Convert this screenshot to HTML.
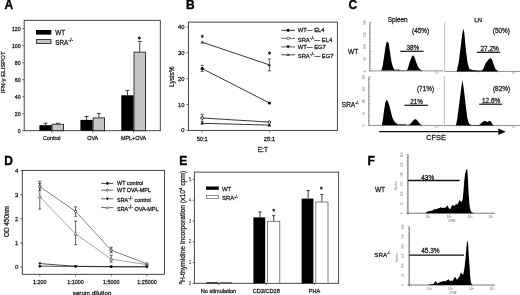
<!DOCTYPE html>
<html><head><meta charset="utf-8"><style>
html,body{margin:0;padding:0;background:#fff;}
svg{display:block;will-change:transform;filter:blur(0.3px);font-family:"Liberation Sans", sans-serif;}
</style></head><body>
<svg width="520" height="295" viewBox="0 0 520 295">
<rect width="520" height="295" fill="#fff"/>
<text x="4.5" y="8.8" font-size="12" text-anchor="start" font-weight="bold" fill="#000" stroke="#000" stroke-width="0.35">A</text>
<rect x="24.2" y="20.3" width="136.10000000000002" height="110.39999999999999" fill="none" stroke="#333" stroke-width="0.9"/>
<line x1="22.2" y1="130.7" x2="24.2" y2="130.7" stroke="#333" stroke-width="0.7"/>
<text x="20.6" y="132.6" font-size="5.2" text-anchor="end" font-weight="normal" fill="#222" stroke="#222" stroke-width="0.26">0</text>
<line x1="22.2" y1="113.69999999999999" x2="24.2" y2="113.69999999999999" stroke="#333" stroke-width="0.7"/>
<text x="20.6" y="115.6" font-size="5.2" text-anchor="end" font-weight="normal" fill="#222" stroke="#222" stroke-width="0.26">20</text>
<line x1="22.2" y1="96.69999999999999" x2="24.2" y2="96.69999999999999" stroke="#333" stroke-width="0.7"/>
<text x="20.6" y="98.6" font-size="5.2" text-anchor="end" font-weight="normal" fill="#222" stroke="#222" stroke-width="0.26">40</text>
<line x1="22.2" y1="79.69999999999999" x2="24.2" y2="79.69999999999999" stroke="#333" stroke-width="0.7"/>
<text x="20.6" y="81.6" font-size="5.2" text-anchor="end" font-weight="normal" fill="#222" stroke="#222" stroke-width="0.26">60</text>
<line x1="22.2" y1="62.69999999999999" x2="24.2" y2="62.69999999999999" stroke="#333" stroke-width="0.7"/>
<text x="20.6" y="64.6" font-size="5.2" text-anchor="end" font-weight="normal" fill="#222" stroke="#222" stroke-width="0.26">80</text>
<line x1="22.2" y1="45.69999999999999" x2="24.2" y2="45.69999999999999" stroke="#333" stroke-width="0.7"/>
<text x="20.6" y="47.59999999999999" font-size="5.2" text-anchor="end" font-weight="normal" fill="#222" stroke="#222" stroke-width="0.26">100</text>
<line x1="22.2" y1="28.69999999999999" x2="24.2" y2="28.69999999999999" stroke="#333" stroke-width="0.7"/>
<text x="20.6" y="30.599999999999987" font-size="5.2" text-anchor="end" font-weight="normal" fill="#222" stroke="#222" stroke-width="0.26">120</text>
<text x="5.2" y="72.3" font-size="6.0" text-anchor="middle" font-weight="normal" fill="#222" stroke="#222" stroke-width="0.26" transform="rotate(-90 5.2 72.3)">IFN-γ ELISPOT</text>
<rect x="36" y="30" width="15.3" height="4.6" fill="#000"/>
<rect x="36.4" y="39.6" width="14.6" height="3.9" fill="#c4c4c4" stroke="#111" stroke-width="0.8"/>
<text x="55.2" y="34.6" font-size="6.4" text-anchor="start" font-weight="normal" fill="#222" stroke="#222" stroke-width="0.26">WT</text>
<text x="55.2" y="44.5" font-size="6.4" text-anchor="start" font-weight="normal" fill="#222" stroke="#222" stroke-width="0.26">SRA<tspan font-size="5.2" dy="-2.5">-/-</tspan></text>
<line x1="45.550000000000004" y1="125.2" x2="45.550000000000004" y2="123.2" stroke="#111" stroke-width="0.8"/>
<line x1="43.550000000000004" y1="123.2" x2="47.550000000000004" y2="123.2" stroke="#111" stroke-width="0.8"/>
<line x1="57.85" y1="124.2" x2="57.85" y2="123.3" stroke="#111" stroke-width="0.8"/>
<line x1="55.85" y1="123.3" x2="59.85" y2="123.3" stroke="#111" stroke-width="0.8"/>
<rect x="39.400000000000006" y="125.2" width="12.3" height="5.499999999999986" fill="#000"/>
<rect x="52.1" y="124.2" width="11.5" height="6.499999999999986" fill="#c4c4c4" stroke="#111" stroke-width="0.8"/>
<line x1="51.7" y1="130.7" x2="51.7" y2="132.7" stroke="#333" stroke-width="0.7"/>
<text x="51.7" y="140.2" font-size="5.4" text-anchor="middle" font-weight="normal" fill="#222" stroke="#222" stroke-width="0.26">Control</text>
<line x1="86.55" y1="119.9" x2="86.55" y2="116.5" stroke="#111" stroke-width="0.8"/>
<line x1="84.55" y1="116.5" x2="88.55" y2="116.5" stroke="#111" stroke-width="0.8"/>
<line x1="98.85000000000001" y1="117.9" x2="98.85000000000001" y2="113.4" stroke="#111" stroke-width="0.8"/>
<line x1="96.85000000000001" y1="113.4" x2="100.85000000000001" y2="113.4" stroke="#111" stroke-width="0.8"/>
<rect x="80.4" y="119.9" width="12.3" height="10.799999999999983" fill="#000"/>
<rect x="93.10000000000001" y="117.9" width="11.5" height="12.799999999999983" fill="#c4c4c4" stroke="#111" stroke-width="0.8"/>
<line x1="92.7" y1="130.7" x2="92.7" y2="132.7" stroke="#333" stroke-width="0.7"/>
<text x="92.7" y="140.2" font-size="5.4" text-anchor="middle" font-weight="normal" fill="#222" stroke="#222" stroke-width="0.26">OVA</text>
<line x1="127.44999999999999" y1="95.3" x2="127.44999999999999" y2="90.4" stroke="#111" stroke-width="0.8"/>
<line x1="125.44999999999999" y1="90.4" x2="129.45" y2="90.4" stroke="#111" stroke-width="0.8"/>
<line x1="139.75" y1="52.1" x2="139.75" y2="41.4" stroke="#111" stroke-width="0.8"/>
<line x1="137.75" y1="41.4" x2="141.75" y2="41.4" stroke="#111" stroke-width="0.8"/>
<rect x="121.3" y="95.3" width="12.3" height="35.39999999999999" fill="#000"/>
<rect x="134.0" y="52.1" width="11.5" height="78.6" fill="#c4c4c4" stroke="#111" stroke-width="0.8"/>
<line x1="133.6" y1="130.7" x2="133.6" y2="132.7" stroke="#333" stroke-width="0.7"/>
<text x="133.6" y="140.2" font-size="5.4" text-anchor="middle" font-weight="normal" fill="#222" stroke="#222" stroke-width="0.26">MPL+OVA</text>
<line x1="139.4" y1="36.4" x2="139.4" y2="39.6" stroke="#111" stroke-width="0.9"/>
<line x1="138.01" y1="37.2" x2="140.79" y2="38.8" stroke="#111" stroke-width="0.9"/>
<line x1="138.01" y1="38.8" x2="140.79" y2="37.2" stroke="#111" stroke-width="0.9"/>
<text x="185.9" y="8.8" font-size="12" text-anchor="start" font-weight="bold" fill="#000" stroke="#000" stroke-width="0.35">B</text>
<rect x="188.4" y="22.1" width="148.99999999999997" height="108.30000000000001" fill="none" stroke="#333" stroke-width="0.9"/>
<line x1="186.4" y1="130.4" x2="188.4" y2="130.4" stroke="#333" stroke-width="0.7"/>
<text x="184.4" y="132.4" font-size="5.8" text-anchor="end" font-weight="normal" fill="#222" stroke="#222" stroke-width="0.26">0</text>
<line x1="186.4" y1="104.5" x2="188.4" y2="104.5" stroke="#333" stroke-width="0.7"/>
<text x="184.4" y="106.5" font-size="5.8" text-anchor="end" font-weight="normal" fill="#222" stroke="#222" stroke-width="0.26">10</text>
<line x1="186.4" y1="78.60000000000001" x2="188.4" y2="78.60000000000001" stroke="#333" stroke-width="0.7"/>
<text x="184.4" y="80.60000000000001" font-size="5.8" text-anchor="end" font-weight="normal" fill="#222" stroke="#222" stroke-width="0.26">20</text>
<line x1="186.4" y1="52.70000000000002" x2="188.4" y2="52.70000000000002" stroke="#333" stroke-width="0.7"/>
<text x="184.4" y="54.70000000000002" font-size="5.8" text-anchor="end" font-weight="normal" fill="#222" stroke="#222" stroke-width="0.26">30</text>
<line x1="186.4" y1="26.80000000000001" x2="188.4" y2="26.80000000000001" stroke="#333" stroke-width="0.7"/>
<text x="184.4" y="28.80000000000001" font-size="5.8" text-anchor="end" font-weight="normal" fill="#222" stroke="#222" stroke-width="0.26">40</text>
<text x="174.3" y="76.6" font-size="6.6" text-anchor="middle" font-weight="normal" fill="#222" stroke="#222" stroke-width="0.26" transform="rotate(-90 174.3 76.6)">Lysis%</text>
<line x1="202.2" y1="130.4" x2="202.2" y2="132.4" stroke="#333" stroke-width="0.7"/>
<text x="202.2" y="140.8" font-size="5.7" text-anchor="middle" font-weight="normal" fill="#222" stroke="#222" stroke-width="0.26">50:1</text>
<line x1="269.4" y1="130.4" x2="269.4" y2="132.4" stroke="#333" stroke-width="0.7"/>
<text x="269.4" y="140.8" font-size="5.7" text-anchor="middle" font-weight="normal" fill="#222" stroke="#222" stroke-width="0.26">25:1</text>
<text x="262.8" y="151.8" font-size="6.5" text-anchor="middle" font-weight="normal" fill="#222" stroke="#222" stroke-width="0.26">E:T</text>
<path d="M202.2,123.3 L269.4,125.1" fill="none" stroke="#222" stroke-width="0.9"/>
<path d="M200.44,124.58 L203.95999999999998,124.58 L202.2,121.53999999999999 Z" fill="#000"/>
<path d="M267.64,126.38 L271.15999999999997,126.38 L269.4,123.33999999999999 Z" fill="#000"/>
<path d="M202.2,118.0 L269.4,122.1" fill="none" stroke="#222" stroke-width="0.9"/>
<line x1="202.2" y1="114.4" x2="202.2" y2="121.6" stroke="#222" stroke-width="0.7"/>
<line x1="200.7" y1="114.4" x2="203.7" y2="114.4" stroke="#222" stroke-width="0.7"/>
<line x1="200.7" y1="121.6" x2="203.7" y2="121.6" stroke="#222" stroke-width="0.7"/>
<circle cx="202.2" cy="118.0" r="1.36" fill="#fff" stroke="#000" stroke-width="0.8"/>
<circle cx="269.4" cy="122.1" r="1.36" fill="#fff" stroke="#000" stroke-width="0.8"/>
<path d="M202.2,68.6 L269.4,103.0" fill="none" stroke="#222" stroke-width="0.9"/>
<line x1="202.2" y1="65.3" x2="202.2" y2="71.5" stroke="#222" stroke-width="0.7"/>
<line x1="200.7" y1="65.3" x2="203.7" y2="65.3" stroke="#222" stroke-width="0.7"/>
<line x1="200.7" y1="71.5" x2="203.7" y2="71.5" stroke="#222" stroke-width="0.7"/>
<circle cx="202.2" cy="68.6" r="1.6" fill="#000"/>
<circle cx="269.4" cy="103.0" r="1.6" fill="#000"/>
<path d="M202.2,42.2 L269.4,64.9" fill="none" stroke="#222" stroke-width="0.9"/>
<line x1="269.4" y1="59.0" x2="269.4" y2="70.9" stroke="#222" stroke-width="0.7"/>
<line x1="267.9" y1="59.0" x2="270.9" y2="59.0" stroke="#222" stroke-width="0.7"/>
<line x1="267.9" y1="70.9" x2="270.9" y2="70.9" stroke="#222" stroke-width="0.7"/>
<path d="M200.44,43.480000000000004 L203.95999999999998,43.480000000000004 L202.2,40.440000000000005 Z" fill="#333"/>
<path d="M267.64,66.18 L271.15999999999997,66.18 L269.4,63.14000000000001 Z" fill="#333"/>
<line x1="202.3" y1="34.8" x2="202.3" y2="38.0" stroke="#111" stroke-width="0.9"/>
<line x1="200.91" y1="35.6" x2="203.69" y2="37.2" stroke="#111" stroke-width="0.9"/>
<line x1="200.91" y1="37.2" x2="203.69" y2="35.6" stroke="#111" stroke-width="0.9"/>
<line x1="269.5" y1="51.5" x2="269.5" y2="54.7" stroke="#111" stroke-width="0.9"/>
<line x1="268.11" y1="52.3" x2="270.89" y2="53.9" stroke="#111" stroke-width="0.9"/>
<line x1="268.11" y1="53.9" x2="270.89" y2="52.3" stroke="#111" stroke-width="0.9"/>
<line x1="281.4" y1="30.3" x2="295.0" y2="30.3" stroke="#222" stroke-width="0.9"/>
<circle cx="288.1" cy="30.3" r="1.6" fill="#000"/>
<text x="297.8" y="32.4" font-size="5.8" text-anchor="start" font-weight="normal" fill="#222" stroke="#222" stroke-width="0.26">WT— EL4</text>
<line x1="281.4" y1="38.4" x2="295.0" y2="38.4" stroke="#444" stroke-width="0.8"/>
<circle cx="288.1" cy="38.4" r="1.36" fill="#fff" stroke="#555" stroke-width="0.8"/>
<text x="297.8" y="41.699999999999996" font-size="5.8" text-anchor="start" font-weight="normal" fill="#222" stroke="#222" stroke-width="0.26">SRA<tspan font-size="5" dy="-2">-/-</tspan><tspan dy="2">— EL4</tspan></text>
<line x1="281.4" y1="46.8" x2="295.0" y2="46.8" stroke="#999" stroke-width="1.7"/>
<path d="M286.34000000000003,45.519999999999996 L289.86,45.519999999999996 L288.1,48.559999999999995 Z" fill="#000"/>
<text x="297.8" y="48.8" font-size="5.8" text-anchor="start" font-weight="normal" fill="#222" stroke="#222" stroke-width="0.26">WT— EG7</text>
<line x1="281.4" y1="54.8" x2="295.0" y2="54.8" stroke="#333" stroke-width="0.9"/>
<path d="M286.34000000000003,56.08 L289.86,56.08 L288.1,53.04 Z" fill="#555"/>
<text x="297.8" y="58.099999999999994" font-size="5.8" text-anchor="start" font-weight="normal" fill="#222" stroke="#222" stroke-width="0.26">SRA<tspan font-size="5" dy="-2">-/-</tspan><tspan dy="2">— EG7</tspan></text>
<text x="348.4" y="8.8" font-size="12" text-anchor="start" font-weight="bold" fill="#000" stroke="#000" stroke-width="0.35">C</text>
<text x="397.6" y="21.7" font-size="6.4" text-anchor="middle" font-weight="normal" fill="#222" stroke="#222" stroke-width="0.26">Spleen</text>
<text x="478.1" y="21.9" font-size="6.2" text-anchor="middle" font-weight="normal" fill="#222" stroke="#222" stroke-width="0.26">LN</text>
<text x="348.0" y="54.0" font-size="6.7" text-anchor="start" font-weight="normal" fill="#222" stroke="#222" stroke-width="0.26">WT</text>
<text x="341.8" y="106.5" font-size="6.5" text-anchor="start" font-weight="normal" fill="#222" stroke="#222" stroke-width="0.26">SRA<tspan font-size="3.8" dy="-2.6">-/-</tspan></text>
<line x1="369.8" y1="22.4" x2="369.8" y2="70.9" stroke="#777" stroke-width="0.8"/>
<line x1="369.8" y1="70.9" x2="443.5" y2="70.9" stroke="#777" stroke-width="0.8"/>
<line x1="369.3" y1="70.9" x2="371.6" y2="70.9" stroke="#666" stroke-width="0.5"/>
<line x1="369.3" y1="68.47500000000001" x2="370.90000000000003" y2="68.47500000000001" stroke="#666" stroke-width="0.5"/>
<line x1="369.3" y1="66.05000000000001" x2="370.90000000000003" y2="66.05000000000001" stroke="#666" stroke-width="0.5"/>
<line x1="369.3" y1="63.62500000000001" x2="370.90000000000003" y2="63.62500000000001" stroke="#666" stroke-width="0.5"/>
<line x1="369.3" y1="61.2" x2="371.6" y2="61.2" stroke="#666" stroke-width="0.5"/>
<line x1="369.3" y1="58.775000000000006" x2="370.90000000000003" y2="58.775000000000006" stroke="#666" stroke-width="0.5"/>
<line x1="369.3" y1="56.35" x2="370.90000000000003" y2="56.35" stroke="#666" stroke-width="0.5"/>
<line x1="369.3" y1="53.925000000000004" x2="370.90000000000003" y2="53.925000000000004" stroke="#666" stroke-width="0.5"/>
<line x1="369.3" y1="51.5" x2="371.6" y2="51.5" stroke="#666" stroke-width="0.5"/>
<line x1="369.3" y1="49.075" x2="370.90000000000003" y2="49.075" stroke="#666" stroke-width="0.5"/>
<line x1="369.3" y1="46.650000000000006" x2="370.90000000000003" y2="46.650000000000006" stroke="#666" stroke-width="0.5"/>
<line x1="369.3" y1="44.225" x2="370.90000000000003" y2="44.225" stroke="#666" stroke-width="0.5"/>
<line x1="369.3" y1="41.8" x2="371.6" y2="41.8" stroke="#666" stroke-width="0.5"/>
<line x1="369.3" y1="39.375" x2="370.90000000000003" y2="39.375" stroke="#666" stroke-width="0.5"/>
<line x1="369.3" y1="36.95" x2="370.90000000000003" y2="36.95" stroke="#666" stroke-width="0.5"/>
<line x1="369.3" y1="34.525" x2="370.90000000000003" y2="34.525" stroke="#666" stroke-width="0.5"/>
<line x1="369.3" y1="32.1" x2="371.6" y2="32.1" stroke="#666" stroke-width="0.5"/>
<line x1="369.3" y1="29.674999999999997" x2="370.90000000000003" y2="29.674999999999997" stroke="#666" stroke-width="0.5"/>
<line x1="369.3" y1="27.25" x2="370.90000000000003" y2="27.25" stroke="#666" stroke-width="0.5"/>
<line x1="369.3" y1="24.825000000000003" x2="370.90000000000003" y2="24.825000000000003" stroke="#666" stroke-width="0.5"/>
<line x1="369.3" y1="22.4" x2="371.6" y2="22.4" stroke="#666" stroke-width="0.5"/>
<text x="364.6" y="70.9" font-size="3.0" text-anchor="middle" font-weight="normal" fill="#777" transform="rotate(-90 364.6 70.9)" dominant-baseline="central">0</text>
<text x="364.6" y="58.775000000000006" font-size="3.0" text-anchor="middle" font-weight="normal" fill="#777" transform="rotate(-90 364.6 58.775000000000006)" dominant-baseline="central">50</text>
<text x="364.6" y="46.650000000000006" font-size="3.0" text-anchor="middle" font-weight="normal" fill="#777" transform="rotate(-90 364.6 46.650000000000006)" dominant-baseline="central">100</text>
<text x="364.6" y="34.525" font-size="3.0" text-anchor="middle" font-weight="normal" fill="#777" transform="rotate(-90 364.6 34.525)" dominant-baseline="central">150</text>
<text x="364.6" y="22.4" font-size="3.0" text-anchor="middle" font-weight="normal" fill="#777" transform="rotate(-90 364.6 22.4)" dominant-baseline="central">200</text>
<line x1="384.225" y1="70.9" x2="384.225" y2="72.2" stroke="#777" stroke-width="0.5"/>
<line x1="402.65" y1="70.9" x2="402.65" y2="72.2" stroke="#777" stroke-width="0.5"/>
<line x1="421.075" y1="70.9" x2="421.075" y2="72.2" stroke="#777" stroke-width="0.5"/>
<text x="436.5" y="73.7" font-size="2.6" text-anchor="middle" font-weight="normal" fill="#888">10<tspan font-size="2" dy="-0.8">4</tspan></text>
<line x1="444.6" y1="22.4" x2="444.6" y2="71.4" stroke="#aaa" stroke-width="0.8"/>
<line x1="444.6" y1="71.4" x2="520.5" y2="71.4" stroke="#777" stroke-width="0.8"/>
<line x1="459.57500000000005" y1="71.4" x2="459.57500000000005" y2="72.7" stroke="#777" stroke-width="0.5"/>
<line x1="478.55" y1="71.4" x2="478.55" y2="72.7" stroke="#777" stroke-width="0.5"/>
<line x1="497.525" y1="71.4" x2="497.525" y2="72.7" stroke="#777" stroke-width="0.5"/>
<text x="513.5" y="74.2" font-size="2.6" text-anchor="middle" font-weight="normal" fill="#888">10<tspan font-size="2" dy="-0.8">4</tspan></text>
<line x1="368.8" y1="77.0" x2="368.8" y2="125.4" stroke="#777" stroke-width="0.8"/>
<line x1="368.8" y1="125.4" x2="443.5" y2="125.4" stroke="#777" stroke-width="0.8"/>
<line x1="368.3" y1="125.4" x2="370.6" y2="125.4" stroke="#666" stroke-width="0.5"/>
<line x1="368.3" y1="122.98" x2="369.90000000000003" y2="122.98" stroke="#666" stroke-width="0.5"/>
<line x1="368.3" y1="120.56" x2="369.90000000000003" y2="120.56" stroke="#666" stroke-width="0.5"/>
<line x1="368.3" y1="118.14" x2="369.90000000000003" y2="118.14" stroke="#666" stroke-width="0.5"/>
<line x1="368.3" y1="115.72" x2="370.6" y2="115.72" stroke="#666" stroke-width="0.5"/>
<line x1="368.3" y1="113.30000000000001" x2="369.90000000000003" y2="113.30000000000001" stroke="#666" stroke-width="0.5"/>
<line x1="368.3" y1="110.88000000000001" x2="369.90000000000003" y2="110.88000000000001" stroke="#666" stroke-width="0.5"/>
<line x1="368.3" y1="108.46000000000001" x2="369.90000000000003" y2="108.46000000000001" stroke="#666" stroke-width="0.5"/>
<line x1="368.3" y1="106.04" x2="370.6" y2="106.04" stroke="#666" stroke-width="0.5"/>
<line x1="368.3" y1="103.62" x2="369.90000000000003" y2="103.62" stroke="#666" stroke-width="0.5"/>
<line x1="368.3" y1="101.2" x2="369.90000000000003" y2="101.2" stroke="#666" stroke-width="0.5"/>
<line x1="368.3" y1="98.78" x2="369.90000000000003" y2="98.78" stroke="#666" stroke-width="0.5"/>
<line x1="368.3" y1="96.36" x2="370.6" y2="96.36" stroke="#666" stroke-width="0.5"/>
<line x1="368.3" y1="93.94" x2="369.90000000000003" y2="93.94" stroke="#666" stroke-width="0.5"/>
<line x1="368.3" y1="91.52" x2="369.90000000000003" y2="91.52" stroke="#666" stroke-width="0.5"/>
<line x1="368.3" y1="89.1" x2="369.90000000000003" y2="89.1" stroke="#666" stroke-width="0.5"/>
<line x1="368.3" y1="86.68" x2="370.6" y2="86.68" stroke="#666" stroke-width="0.5"/>
<line x1="368.3" y1="84.26" x2="369.90000000000003" y2="84.26" stroke="#666" stroke-width="0.5"/>
<line x1="368.3" y1="81.84" x2="369.90000000000003" y2="81.84" stroke="#666" stroke-width="0.5"/>
<line x1="368.3" y1="79.42" x2="369.90000000000003" y2="79.42" stroke="#666" stroke-width="0.5"/>
<line x1="368.3" y1="77.0" x2="370.6" y2="77.0" stroke="#666" stroke-width="0.5"/>
<text x="363.6" y="125.4" font-size="3.0" text-anchor="middle" font-weight="normal" fill="#777" transform="rotate(-90 363.6 125.4)" dominant-baseline="central">0</text>
<text x="363.6" y="113.30000000000001" font-size="3.0" text-anchor="middle" font-weight="normal" fill="#777" transform="rotate(-90 363.6 113.30000000000001)" dominant-baseline="central">50</text>
<text x="363.6" y="101.2" font-size="3.0" text-anchor="middle" font-weight="normal" fill="#777" transform="rotate(-90 363.6 101.2)" dominant-baseline="central">100</text>
<text x="363.6" y="89.1" font-size="3.0" text-anchor="middle" font-weight="normal" fill="#777" transform="rotate(-90 363.6 89.1)" dominant-baseline="central">150</text>
<text x="363.6" y="77.0" font-size="3.0" text-anchor="middle" font-weight="normal" fill="#777" transform="rotate(-90 363.6 77.0)" dominant-baseline="central">200</text>
<line x1="383.475" y1="125.4" x2="383.475" y2="126.7" stroke="#777" stroke-width="0.5"/>
<line x1="402.15" y1="125.4" x2="402.15" y2="126.7" stroke="#777" stroke-width="0.5"/>
<line x1="420.825" y1="125.4" x2="420.825" y2="126.7" stroke="#777" stroke-width="0.5"/>
<text x="436.5" y="128.20000000000002" font-size="2.6" text-anchor="middle" font-weight="normal" fill="#888">10<tspan font-size="2" dy="-0.8">4</tspan></text>
<line x1="444.3" y1="76.0" x2="444.3" y2="125.5" stroke="#aaa" stroke-width="0.8"/>
<line x1="444.3" y1="125.5" x2="520.5" y2="125.5" stroke="#777" stroke-width="0.8"/>
<line x1="459.35" y1="125.5" x2="459.35" y2="126.8" stroke="#777" stroke-width="0.5"/>
<line x1="478.4" y1="125.5" x2="478.4" y2="126.8" stroke="#777" stroke-width="0.5"/>
<line x1="497.45" y1="125.5" x2="497.45" y2="126.8" stroke="#777" stroke-width="0.5"/>
<text x="513.5" y="128.3" font-size="2.6" text-anchor="middle" font-weight="normal" fill="#888">10<tspan font-size="2" dy="-0.8">4</tspan></text>
<path d="M381.0,70.6 L381.3,70.7 L382.8,65.3 L384.2,55.8 L385.4,47.5 L386.3,42.8 L387.3,41.8 L388.5,42.8 L389.3,47.5 L390.5,55.8 L391.7,62.9 L393.2,67.7 L394.6,69.8 L396.4,69.8 L398.2,69.5 L400,70.1 L403,70.3 L406.5,70.3 L407.7,68.9 L409.1,64.1 L410.7,59.4 L412.2,55.8 L413.4,55.6 L414.6,57.6 L416,61.8 L417.8,66.5 L419.6,69.1 L421.9,70.3 L423.7,70.7 L423.7,70.6 Z" fill="#000"/>
<text x="420.6" y="33.2" font-size="6.4" text-anchor="middle" font-weight="normal" fill="#222" stroke="#222" stroke-width="0.26">(45%)</text>
<text x="412.75" y="50.0" font-size="6.3" text-anchor="middle" font-weight="normal" fill="#222" stroke="#222" stroke-width="0.26">38%</text>
<line x1="400.3" y1="51.3" x2="423.7" y2="51.3" stroke="#111" stroke-width="1.2"/>
<path d="M456.6,71.4 L456.9,70.5 L458.7,62.5 L460.5,48.4 L462.2,34.3 L463.3,28.7 L464.3,32.6 L465.7,48.4 L467.5,62.5 L469.3,68.7 L472.3,69.9 L478.4,70.5 L482,70.5 L483.4,68.7 L485.5,63.4 L488.1,59.9 L490.4,58.1 L492.2,59.9 L493.9,65.2 L495.7,69.6 L497.5,70.6 L497.5,71.4 Z" fill="#000"/>
<text x="501.4" y="33.1" font-size="6.4" text-anchor="middle" font-weight="normal" fill="#222" stroke="#222" stroke-width="0.26">(50%)</text>
<text x="489.7" y="51.4" font-size="6.5" text-anchor="middle" font-weight="normal" fill="#222" stroke="#222" stroke-width="0.26">27.2%</text>
<line x1="477.0" y1="52.3" x2="500.2" y2="52.3" stroke="#111" stroke-width="1.2"/>
<path d="M381.6,125.2 L381.9,125.2 L383,118.5 L384.2,109.5 L385.3,102.8 L386.4,99.7 L387.8,101.2 L389.2,105.1 L390.9,111.8 L392.5,117.9 L394.2,121.3 L395.9,123 L398.1,124.6 L400.4,124.3 L402.6,124.6 L404.8,124.3 L407.6,125 L409.9,124.3 L411.6,122.4 L413.2,120.5 L415.1,119 L416.6,119.8 L418.3,121.8 L419.9,124.1 L421.8,125.2 L421.8,125.2 Z" fill="#000"/>
<text x="425.5" y="90.6" font-size="6.4" text-anchor="middle" font-weight="normal" fill="#222" stroke="#222" stroke-width="0.26">(71%)</text>
<text x="416.5" y="104.0" font-size="6.3" text-anchor="middle" font-weight="normal" fill="#222" stroke="#222" stroke-width="0.26">21%</text>
<line x1="404.4" y1="105.3" x2="427.9" y2="105.3" stroke="#111" stroke-width="1.2"/>
<path d="M455.8,125.4 L456,125 L457.4,118.1 L459.2,103.7 L461,89.4 L462.4,80 L463.9,89.4 L465.5,103.7 L467.3,118.1 L469.1,123.9 L471.8,125 L479,125 L480.4,123.9 L482.5,122.1 L484.7,120.8 L486.1,121.4 L487.6,122.1 L489.4,120.8 L491.2,122.1 L492.4,124.4 L493.7,125.1 L493.7,125.4 Z" fill="#000"/>
<text x="501.5" y="90.8" font-size="6.4" text-anchor="middle" font-weight="normal" fill="#222" stroke="#222" stroke-width="0.26">(82%)</text>
<text x="491.2" y="103.2" font-size="6.5" text-anchor="middle" font-weight="normal" fill="#222" stroke="#222" stroke-width="0.26">12.6%</text>
<line x1="479.2" y1="104.2" x2="502.2" y2="104.2" stroke="#111" stroke-width="1.2"/>
<line x1="379.2" y1="131.7" x2="500" y2="131.7" stroke="#111" stroke-width="1.3"/>
<path d="M498.4,128.5 L505.8,131.7 L498.4,134.9 Z" fill="#111"/>
<text x="436.1" y="139.6" font-size="7.4" text-anchor="middle" font-weight="normal" fill="#222" stroke="#222" stroke-width="0.26">CFSE</text>
<text x="4.2" y="164.7" font-size="12" text-anchor="start" font-weight="bold" fill="#000" stroke="#000" stroke-width="0.35">D</text>
<rect x="22.3" y="170.4" width="142.2" height="103.9" fill="none" stroke="#333" stroke-width="0.9"/>
<line x1="20.3" y1="267.1" x2="22.3" y2="267.1" stroke="#333" stroke-width="0.7"/>
<text x="18.3" y="269.20000000000005" font-size="5.9" text-anchor="end" font-weight="normal" fill="#222" stroke="#222" stroke-width="0.26">0</text>
<line x1="20.3" y1="242.95000000000002" x2="22.3" y2="242.95000000000002" stroke="#333" stroke-width="0.7"/>
<text x="18.3" y="245.05" font-size="5.9" text-anchor="end" font-weight="normal" fill="#222" stroke="#222" stroke-width="0.26">1</text>
<line x1="20.3" y1="218.8" x2="22.3" y2="218.8" stroke="#333" stroke-width="0.7"/>
<text x="18.3" y="220.9" font-size="5.9" text-anchor="end" font-weight="normal" fill="#222" stroke="#222" stroke-width="0.26">2</text>
<line x1="20.3" y1="194.65000000000003" x2="22.3" y2="194.65000000000003" stroke="#333" stroke-width="0.7"/>
<text x="18.3" y="196.75000000000003" font-size="5.9" text-anchor="end" font-weight="normal" fill="#222" stroke="#222" stroke-width="0.26">3</text>
<line x1="20.3" y1="170.50000000000003" x2="22.3" y2="170.50000000000003" stroke="#333" stroke-width="0.7"/>
<text x="18.3" y="172.60000000000002" font-size="5.9" text-anchor="end" font-weight="normal" fill="#222" stroke="#222" stroke-width="0.26">4</text>
<text x="9.4" y="221.6" font-size="6.4" text-anchor="middle" font-weight="normal" fill="#222" stroke="#222" stroke-width="0.26" transform="rotate(-90 9.4 221.6)">OD 450nm</text>
<line x1="39.8" y1="274.3" x2="39.8" y2="276.3" stroke="#333" stroke-width="0.7"/>
<text x="39.8" y="284.0" font-size="5.4" text-anchor="middle" font-weight="normal" fill="#222" stroke="#222" stroke-width="0.26">1:200</text>
<line x1="75.6" y1="274.3" x2="75.6" y2="276.3" stroke="#333" stroke-width="0.7"/>
<text x="75.6" y="284.0" font-size="5.4" text-anchor="middle" font-weight="normal" fill="#222" stroke="#222" stroke-width="0.26">1:1000</text>
<line x1="111.2" y1="274.3" x2="111.2" y2="276.3" stroke="#333" stroke-width="0.7"/>
<text x="111.2" y="284.0" font-size="5.4" text-anchor="middle" font-weight="normal" fill="#222" stroke="#222" stroke-width="0.26">1:5000</text>
<line x1="146.9" y1="274.3" x2="146.9" y2="276.3" stroke="#333" stroke-width="0.7"/>
<text x="146.9" y="284.0" font-size="5.4" text-anchor="middle" font-weight="normal" fill="#222" stroke="#222" stroke-width="0.26">1:25000</text>
<text x="92.1" y="294.6" font-size="6.2" text-anchor="middle" font-weight="normal" fill="#222" stroke="#222" stroke-width="0.26">serum dilution</text>
<path d="M39.8,196.7 L75.6,233.9 L111.2,259.1 L146.9,264.6" fill="none" stroke="#888" stroke-width="0.75"/>
<line x1="39.8" y1="181.3" x2="39.8" y2="209.1" stroke="#222" stroke-width="0.7"/>
<line x1="38.3" y1="181.3" x2="41.3" y2="181.3" stroke="#222" stroke-width="0.7"/>
<line x1="38.3" y1="209.1" x2="41.3" y2="209.1" stroke="#222" stroke-width="0.7"/>
<line x1="75.6" y1="221.1" x2="75.6" y2="244.7" stroke="#222" stroke-width="0.7"/>
<line x1="74.1" y1="221.1" x2="77.1" y2="221.1" stroke="#222" stroke-width="0.7"/>
<line x1="74.1" y1="244.7" x2="77.1" y2="244.7" stroke="#222" stroke-width="0.7"/>
<line x1="111.2" y1="255.2" x2="111.2" y2="262.2" stroke="#222" stroke-width="0.7"/>
<line x1="109.7" y1="255.2" x2="112.7" y2="255.2" stroke="#222" stroke-width="0.7"/>
<line x1="109.7" y1="262.2" x2="112.7" y2="262.2" stroke="#222" stroke-width="0.7"/>
<path d="M38.26,197.82 L41.339999999999996,197.82 L39.8,195.16 Z" fill="#fff" stroke="#444" stroke-width="0.6"/>
<path d="M74.05999999999999,235.02 L77.14,235.02 L75.6,232.36 Z" fill="#fff" stroke="#444" stroke-width="0.6"/>
<path d="M109.66,260.22 L112.74000000000001,260.22 L111.2,257.56 Z" fill="#fff" stroke="#444" stroke-width="0.6"/>
<path d="M145.36,265.72 L148.44,265.72 L146.9,263.06 Z" fill="#fff" stroke="#444" stroke-width="0.6"/>
<path d="M39.8,186.6 L75.6,211.4 L111.2,250.2 L146.9,263.8" fill="none" stroke="#555" stroke-width="0.75"/>
<line x1="39.8" y1="183.3" x2="39.8" y2="190.3" stroke="#222" stroke-width="0.7"/>
<line x1="38.3" y1="183.3" x2="41.3" y2="183.3" stroke="#222" stroke-width="0.7"/>
<line x1="38.3" y1="190.3" x2="41.3" y2="190.3" stroke="#222" stroke-width="0.7"/>
<line x1="75.6" y1="206.8" x2="75.6" y2="216.3" stroke="#222" stroke-width="0.7"/>
<line x1="74.1" y1="206.8" x2="77.1" y2="206.8" stroke="#222" stroke-width="0.7"/>
<line x1="74.1" y1="216.3" x2="77.1" y2="216.3" stroke="#222" stroke-width="0.7"/>
<line x1="111.2" y1="247.3" x2="111.2" y2="252.6" stroke="#222" stroke-width="0.7"/>
<line x1="109.7" y1="247.3" x2="112.7" y2="247.3" stroke="#222" stroke-width="0.7"/>
<line x1="109.7" y1="252.6" x2="112.7" y2="252.6" stroke="#222" stroke-width="0.7"/>
<circle cx="39.8" cy="186.6" r="1.19" fill="#fff" stroke="#222" stroke-width="0.8"/>
<circle cx="75.6" cy="211.4" r="1.19" fill="#fff" stroke="#222" stroke-width="0.8"/>
<circle cx="111.2" cy="250.2" r="1.19" fill="#fff" stroke="#222" stroke-width="0.8"/>
<circle cx="146.9" cy="263.8" r="1.19" fill="#fff" stroke="#222" stroke-width="0.8"/>
<path d="M39.8,263.6 L75.6,266.3 L111.2,266.6 L146.9,266.7" fill="none" stroke="#222" stroke-width="0.8"/>
<path d="M38.37,262.56 L41.23,262.56 L39.8,265.03000000000003 Z" fill="#000"/>
<path d="M74.16999999999999,265.26 L77.03,265.26 L75.6,267.73 Z" fill="#000"/>
<path d="M109.77,265.56 L112.63000000000001,265.56 L111.2,268.03000000000003 Z" fill="#000"/>
<path d="M145.47,265.65999999999997 L148.33,265.65999999999997 L146.9,268.13 Z" fill="#000"/>
<path d="M39.8,266.2 L75.6,266.4 L111.2,266.8 L146.9,266.8" fill="none" stroke="#222" stroke-width="0.8"/>
<circle cx="39.8" cy="266.2" r="1.25" fill="#000"/>
<circle cx="75.6" cy="266.4" r="1.25" fill="#000"/>
<circle cx="111.2" cy="266.8" r="1.25" fill="#000"/>
<circle cx="146.9" cy="266.8" r="1.25" fill="#000"/>
<line x1="101.1" y1="183.4" x2="113.3" y2="183.4" stroke="#222" stroke-width="0.8"/>
<circle cx="107.4" cy="183.4" r="1.3" fill="#000"/>
<text x="117.0" y="185.4" font-size="5.45" text-anchor="start" font-weight="normal" fill="#222" stroke="#222" stroke-width="0.26">WT control</text>
<line x1="101.1" y1="190.2" x2="113.3" y2="190.2" stroke="#444" stroke-width="0.8"/>
<circle cx="107.4" cy="190.2" r="1.105" fill="#fff" stroke="#444" stroke-width="0.8"/>
<text x="117.0" y="192.2" font-size="5.45" text-anchor="start" font-weight="normal" fill="#222" stroke="#222" stroke-width="0.26">WT OVA-MPL</text>
<line x1="101.1" y1="198.7" x2="113.3" y2="198.7" stroke="#999" stroke-width="1.6"/>
<path d="M105.97,197.66 L108.83000000000001,197.66 L107.4,200.13 Z" fill="#000"/>
<text x="117.0" y="201.7" font-size="5.45" text-anchor="start" font-weight="normal" fill="#222" stroke="#222" stroke-width="0.26">SRA<tspan font-size="5" dy="-1.9">-/-</tspan><tspan dy="1.9"> control</tspan></text>
<line x1="101.1" y1="207.6" x2="113.3" y2="207.6" stroke="#444" stroke-width="0.8"/>
<path d="M105.97,208.64 L108.83000000000001,208.64 L107.4,206.17 Z" fill="#fff" stroke="#666" stroke-width="0.6"/>
<text x="117.0" y="210.5" font-size="5.45" text-anchor="start" font-weight="normal" fill="#222" stroke="#222" stroke-width="0.26">SRA<tspan font-size="5" dy="-1.9">-/-</tspan><tspan dy="1.9"> OVA-MPL</tspan></text>
<text x="179.2" y="164.8" font-size="12" text-anchor="start" font-weight="bold" fill="#000" stroke="#000" stroke-width="0.35">E</text>
<rect x="194.4" y="172.1" width="144.20000000000002" height="111.20000000000002" fill="none" stroke="#333" stroke-width="0.9"/>
<line x1="192.6" y1="283.3" x2="194.4" y2="283.3" stroke="#333" stroke-width="0.7"/>
<text x="191.4" y="284.90000000000003" font-size="4.6" text-anchor="end" font-weight="normal" fill="#222">0</text>
<line x1="192.6" y1="262.54" x2="194.4" y2="262.54" stroke="#333" stroke-width="0.7"/>
<text x="191.4" y="264.14000000000004" font-size="4.6" text-anchor="end" font-weight="normal" fill="#222">1</text>
<line x1="192.6" y1="241.78" x2="194.4" y2="241.78" stroke="#333" stroke-width="0.7"/>
<text x="191.4" y="243.38" font-size="4.6" text-anchor="end" font-weight="normal" fill="#222">2</text>
<line x1="192.6" y1="221.02" x2="194.4" y2="221.02" stroke="#333" stroke-width="0.7"/>
<text x="191.4" y="222.62" font-size="4.6" text-anchor="end" font-weight="normal" fill="#222">3</text>
<line x1="192.6" y1="200.26" x2="194.4" y2="200.26" stroke="#333" stroke-width="0.7"/>
<text x="191.4" y="201.85999999999999" font-size="4.6" text-anchor="end" font-weight="normal" fill="#222">4</text>
<line x1="192.6" y1="179.5" x2="194.4" y2="179.5" stroke="#333" stroke-width="0.7"/>
<text x="191.4" y="181.1" font-size="4.6" text-anchor="end" font-weight="normal" fill="#222">5</text>
<text x="185.0" y="227.6" font-size="6.75" text-anchor="middle" font-weight="normal" fill="#222" stroke="#222" stroke-width="0.26" transform="rotate(-90 185.0 227.6)"><tspan font-size="4.4" dy="-2.5">3</tspan><tspan dy="2.5">H-thymidine incorporation (x10</tspan><tspan font-size="4.4" dy="-2.5">4</tspan><tspan dy="2.5"> cpm)</tspan></text>
<rect x="206.0" y="186.5" width="12.8" height="3.3" fill="#000"/>
<rect x="206.4" y="195.5" width="12.0" height="3.0" fill="#fff" stroke="#666" stroke-width="0.7"/>
<text x="221.9" y="190.8" font-size="6.0" text-anchor="start" font-weight="normal" fill="#222" stroke="#222" stroke-width="0.26">WT</text>
<text x="221.9" y="200.2" font-size="6.0" text-anchor="start" font-weight="normal" fill="#222" stroke="#222" stroke-width="0.26">SRA<tspan font-size="4" dy="-2.4">-/-</tspan></text>
<rect x="206.3" y="282.3" width="11.7" height="1.0" fill="#000"/>
<rect x="219.5" y="282.3" width="12.2" height="1.0" fill="#444"/>
<line x1="218.5" y1="283.3" x2="218.5" y2="285.1" stroke="#333" stroke-width="0.7"/>
<text x="218.5" y="293.2" font-size="5.6" text-anchor="middle" font-weight="normal" fill="#222" stroke="#222" stroke-width="0.26">No stimulation</text>
<line x1="260.0" y1="217.4" x2="260.0" y2="211.9" stroke="#111" stroke-width="0.8"/>
<line x1="258.4" y1="211.9" x2="261.6" y2="211.9" stroke="#111" stroke-width="0.8"/>
<line x1="273.7" y1="221.3" x2="273.7" y2="215.6" stroke="#111" stroke-width="0.8"/>
<line x1="272.09999999999997" y1="215.6" x2="275.3" y2="215.6" stroke="#111" stroke-width="0.8"/>
<rect x="253.4" y="217.4" width="11.8" height="65.9" fill="#000"/>
<rect x="267.6" y="221.3" width="12.2" height="62.0" fill="#fff" stroke="#555" stroke-width="0.75"/>
<line x1="266.3" y1="283.3" x2="266.3" y2="285.1" stroke="#333" stroke-width="0.7"/>
<text x="266.3" y="293.2" font-size="5.6" text-anchor="middle" font-weight="normal" fill="#222" stroke="#222" stroke-width="0.26">CD3/CD28</text>
<line x1="308.2" y1="198.6" x2="308.2" y2="190.5" stroke="#111" stroke-width="0.8"/>
<line x1="306.59999999999997" y1="190.5" x2="309.8" y2="190.5" stroke="#111" stroke-width="0.8"/>
<line x1="321.9" y1="202.0" x2="321.9" y2="194.4" stroke="#111" stroke-width="0.8"/>
<line x1="320.29999999999995" y1="194.4" x2="323.5" y2="194.4" stroke="#111" stroke-width="0.8"/>
<rect x="301.6" y="198.6" width="11.8" height="84.70000000000002" fill="#000"/>
<rect x="315.8" y="202.0" width="12.2" height="81.30000000000001" fill="#fff" stroke="#555" stroke-width="0.75"/>
<line x1="314.5" y1="283.3" x2="314.5" y2="285.1" stroke="#333" stroke-width="0.7"/>
<text x="314.5" y="293.2" font-size="5.6" text-anchor="middle" font-weight="normal" fill="#222" stroke="#222" stroke-width="0.26">PHA</text>
<line x1="273.7" y1="208.8" x2="273.7" y2="211.6" stroke="#111" stroke-width="0.9"/>
<line x1="272.49" y1="209.5" x2="274.91" y2="210.9" stroke="#111" stroke-width="0.9"/>
<line x1="272.49" y1="210.9" x2="274.91" y2="209.5" stroke="#111" stroke-width="0.9"/>
<line x1="321.3" y1="186.7" x2="321.3" y2="189.5" stroke="#111" stroke-width="0.9"/>
<line x1="320.09" y1="187.4" x2="322.51" y2="188.8" stroke="#111" stroke-width="0.9"/>
<line x1="320.09" y1="188.8" x2="322.51" y2="187.4" stroke="#111" stroke-width="0.9"/>
<text x="367.6" y="164.7" font-size="12" text-anchor="start" font-weight="bold" fill="#000" stroke="#000" stroke-width="0.35">F</text>
<text x="374.9" y="192.0" font-size="6.6" text-anchor="start" font-weight="normal" fill="#222" stroke="#222" stroke-width="0.26">WT</text>
<text x="374.3" y="256.7" font-size="6.2" text-anchor="start" font-weight="normal" fill="#222" stroke="#222" stroke-width="0.26">SRA<tspan font-size="3.6" dy="-2.6" fill="#777">-/-</tspan></text>
<line x1="407.9" y1="154.8" x2="407.9" y2="213.2" stroke="#555" stroke-width="0.8"/>
<line x1="406.4" y1="213.2" x2="495.0" y2="213.2" stroke="#555" stroke-width="0.8"/>
<line x1="406.29999999999995" y1="213.2" x2="408.79999999999995" y2="213.2" stroke="#666" stroke-width="0.45"/>
<line x1="406.9" y1="211.25333333333333" x2="408.79999999999995" y2="211.25333333333333" stroke="#666" stroke-width="0.45"/>
<line x1="406.9" y1="209.30666666666664" x2="408.79999999999995" y2="209.30666666666664" stroke="#666" stroke-width="0.45"/>
<line x1="406.9" y1="207.35999999999999" x2="408.79999999999995" y2="207.35999999999999" stroke="#666" stroke-width="0.45"/>
<line x1="406.9" y1="205.41333333333333" x2="408.79999999999995" y2="205.41333333333333" stroke="#666" stroke-width="0.45"/>
<line x1="406.29999999999995" y1="203.46666666666667" x2="408.79999999999995" y2="203.46666666666667" stroke="#666" stroke-width="0.45"/>
<line x1="406.9" y1="201.51999999999998" x2="408.79999999999995" y2="201.51999999999998" stroke="#666" stroke-width="0.45"/>
<line x1="406.9" y1="199.57333333333332" x2="408.79999999999995" y2="199.57333333333332" stroke="#666" stroke-width="0.45"/>
<line x1="406.9" y1="197.62666666666667" x2="408.79999999999995" y2="197.62666666666667" stroke="#666" stroke-width="0.45"/>
<line x1="406.9" y1="195.68" x2="408.79999999999995" y2="195.68" stroke="#666" stroke-width="0.45"/>
<line x1="406.29999999999995" y1="193.73333333333332" x2="408.79999999999995" y2="193.73333333333332" stroke="#666" stroke-width="0.45"/>
<line x1="406.9" y1="191.78666666666666" x2="408.79999999999995" y2="191.78666666666666" stroke="#666" stroke-width="0.45"/>
<line x1="406.9" y1="189.84" x2="408.79999999999995" y2="189.84" stroke="#666" stroke-width="0.45"/>
<line x1="406.9" y1="187.89333333333332" x2="408.79999999999995" y2="187.89333333333332" stroke="#666" stroke-width="0.45"/>
<line x1="406.9" y1="185.94666666666666" x2="408.79999999999995" y2="185.94666666666666" stroke="#666" stroke-width="0.45"/>
<line x1="406.29999999999995" y1="184.0" x2="408.79999999999995" y2="184.0" stroke="#666" stroke-width="0.45"/>
<line x1="406.9" y1="182.05333333333334" x2="408.79999999999995" y2="182.05333333333334" stroke="#666" stroke-width="0.45"/>
<line x1="406.9" y1="180.10666666666668" x2="408.79999999999995" y2="180.10666666666668" stroke="#666" stroke-width="0.45"/>
<line x1="406.9" y1="178.16" x2="408.79999999999995" y2="178.16" stroke="#666" stroke-width="0.45"/>
<line x1="406.9" y1="176.21333333333334" x2="408.79999999999995" y2="176.21333333333334" stroke="#666" stroke-width="0.45"/>
<line x1="406.29999999999995" y1="174.26666666666668" x2="408.79999999999995" y2="174.26666666666668" stroke="#666" stroke-width="0.45"/>
<line x1="406.9" y1="172.32" x2="408.79999999999995" y2="172.32" stroke="#666" stroke-width="0.45"/>
<line x1="406.9" y1="170.37333333333333" x2="408.79999999999995" y2="170.37333333333333" stroke="#666" stroke-width="0.45"/>
<line x1="406.9" y1="168.42666666666668" x2="408.79999999999995" y2="168.42666666666668" stroke="#666" stroke-width="0.45"/>
<line x1="406.9" y1="166.48000000000002" x2="408.79999999999995" y2="166.48000000000002" stroke="#666" stroke-width="0.45"/>
<line x1="406.29999999999995" y1="164.53333333333333" x2="408.79999999999995" y2="164.53333333333333" stroke="#666" stroke-width="0.45"/>
<line x1="406.9" y1="162.58666666666667" x2="408.79999999999995" y2="162.58666666666667" stroke="#666" stroke-width="0.45"/>
<line x1="406.9" y1="160.64000000000001" x2="408.79999999999995" y2="160.64000000000001" stroke="#666" stroke-width="0.45"/>
<line x1="406.9" y1="158.69333333333333" x2="408.79999999999995" y2="158.69333333333333" stroke="#666" stroke-width="0.45"/>
<line x1="406.9" y1="156.74666666666667" x2="408.79999999999995" y2="156.74666666666667" stroke="#666" stroke-width="0.45"/>
<line x1="406.29999999999995" y1="154.8" x2="408.79999999999995" y2="154.8" stroke="#666" stroke-width="0.45"/>
<line x1="407.9" y1="213.2" x2="407.9" y2="214.6" stroke="#666" stroke-width="0.5"/>
<line x1="428.79999999999995" y1="213.2" x2="428.79999999999995" y2="214.6" stroke="#666" stroke-width="0.5"/>
<text x="428.19999999999993" y="218.2" font-size="3.2" text-anchor="middle" font-weight="normal" fill="#555">10<tspan font-size="2.2" dy="-1.2">1</tspan></text>
<line x1="449.7" y1="213.2" x2="449.7" y2="214.6" stroke="#666" stroke-width="0.5"/>
<text x="449.09999999999997" y="218.2" font-size="3.2" text-anchor="middle" font-weight="normal" fill="#555">10<tspan font-size="2.2" dy="-1.2">2</tspan></text>
<line x1="470.59999999999997" y1="213.2" x2="470.59999999999997" y2="214.6" stroke="#666" stroke-width="0.5"/>
<text x="469.99999999999994" y="218.2" font-size="3.2" text-anchor="middle" font-weight="normal" fill="#555">10<tspan font-size="2.2" dy="-1.2">3</tspan></text>
<line x1="491.5" y1="213.2" x2="491.5" y2="214.6" stroke="#666" stroke-width="0.5"/>
<text x="490.9" y="218.2" font-size="3.2" text-anchor="middle" font-weight="normal" fill="#555">10<tspan font-size="2.2" dy="-1.2">4</tspan></text>
<text x="451.7" y="221.79999999999998" font-size="2.8" text-anchor="middle" font-weight="normal" fill="#666">CFSE</text>
<text x="402.0" y="213.2" font-size="3.0" text-anchor="middle" font-weight="normal" fill="#888" transform="rotate(-90 402.0 213.2)" dominant-baseline="central">0</text>
<text x="402.0" y="203.46666666666667" font-size="3.0" text-anchor="middle" font-weight="normal" fill="#888" transform="rotate(-90 402.0 203.46666666666667)" dominant-baseline="central">50</text>
<text x="402.0" y="193.73333333333332" font-size="3.0" text-anchor="middle" font-weight="normal" fill="#888" transform="rotate(-90 402.0 193.73333333333332)" dominant-baseline="central">100</text>
<text x="402.0" y="184.0" font-size="3.0" text-anchor="middle" font-weight="normal" fill="#888" transform="rotate(-90 402.0 184.0)" dominant-baseline="central">150</text>
<text x="402.0" y="174.26666666666668" font-size="3.0" text-anchor="middle" font-weight="normal" fill="#888" transform="rotate(-90 402.0 174.26666666666668)" dominant-baseline="central">200</text>
<text x="402.0" y="164.53333333333333" font-size="3.0" text-anchor="middle" font-weight="normal" fill="#888" transform="rotate(-90 402.0 164.53333333333333)" dominant-baseline="central">250</text>
<text x="402.0" y="154.8" font-size="3.0" text-anchor="middle" font-weight="normal" fill="#888" transform="rotate(-90 402.0 154.8)" dominant-baseline="central">300</text>
<text x="396.29999999999995" y="185.5" font-size="2.6" text-anchor="middle" font-weight="normal" fill="#777" transform="rotate(-90 396.29999999999995 185.5)" dominant-baseline="central">Number</text>
<line x1="409.2" y1="226.7" x2="409.2" y2="285.0" stroke="#555" stroke-width="0.8"/>
<line x1="407.7" y1="285.0" x2="495.0" y2="285.0" stroke="#555" stroke-width="0.8"/>
<line x1="407.59999999999997" y1="285.0" x2="410.09999999999997" y2="285.0" stroke="#666" stroke-width="0.45"/>
<line x1="408.2" y1="283.0566666666667" x2="410.09999999999997" y2="283.0566666666667" stroke="#666" stroke-width="0.45"/>
<line x1="408.2" y1="281.11333333333334" x2="410.09999999999997" y2="281.11333333333334" stroke="#666" stroke-width="0.45"/>
<line x1="408.2" y1="279.17" x2="410.09999999999997" y2="279.17" stroke="#666" stroke-width="0.45"/>
<line x1="408.2" y1="277.2266666666667" x2="410.09999999999997" y2="277.2266666666667" stroke="#666" stroke-width="0.45"/>
<line x1="407.59999999999997" y1="275.2833333333333" x2="410.09999999999997" y2="275.2833333333333" stroke="#666" stroke-width="0.45"/>
<line x1="408.2" y1="273.34" x2="410.09999999999997" y2="273.34" stroke="#666" stroke-width="0.45"/>
<line x1="408.2" y1="271.39666666666665" x2="410.09999999999997" y2="271.39666666666665" stroke="#666" stroke-width="0.45"/>
<line x1="408.2" y1="269.4533333333333" x2="410.09999999999997" y2="269.4533333333333" stroke="#666" stroke-width="0.45"/>
<line x1="408.2" y1="267.51" x2="410.09999999999997" y2="267.51" stroke="#666" stroke-width="0.45"/>
<line x1="407.59999999999997" y1="265.56666666666666" x2="410.09999999999997" y2="265.56666666666666" stroke="#666" stroke-width="0.45"/>
<line x1="408.2" y1="263.62333333333333" x2="410.09999999999997" y2="263.62333333333333" stroke="#666" stroke-width="0.45"/>
<line x1="408.2" y1="261.68" x2="410.09999999999997" y2="261.68" stroke="#666" stroke-width="0.45"/>
<line x1="408.2" y1="259.7366666666667" x2="410.09999999999997" y2="259.7366666666667" stroke="#666" stroke-width="0.45"/>
<line x1="408.2" y1="257.79333333333335" x2="410.09999999999997" y2="257.79333333333335" stroke="#666" stroke-width="0.45"/>
<line x1="407.59999999999997" y1="255.85" x2="410.09999999999997" y2="255.85" stroke="#666" stroke-width="0.45"/>
<line x1="408.2" y1="253.90666666666667" x2="410.09999999999997" y2="253.90666666666667" stroke="#666" stroke-width="0.45"/>
<line x1="408.2" y1="251.96333333333334" x2="410.09999999999997" y2="251.96333333333334" stroke="#666" stroke-width="0.45"/>
<line x1="408.2" y1="250.01999999999998" x2="410.09999999999997" y2="250.01999999999998" stroke="#666" stroke-width="0.45"/>
<line x1="408.2" y1="248.07666666666665" x2="410.09999999999997" y2="248.07666666666665" stroke="#666" stroke-width="0.45"/>
<line x1="407.59999999999997" y1="246.13333333333333" x2="410.09999999999997" y2="246.13333333333333" stroke="#666" stroke-width="0.45"/>
<line x1="408.2" y1="244.19" x2="410.09999999999997" y2="244.19" stroke="#666" stroke-width="0.45"/>
<line x1="408.2" y1="242.24666666666667" x2="410.09999999999997" y2="242.24666666666667" stroke="#666" stroke-width="0.45"/>
<line x1="408.2" y1="240.3033333333333" x2="410.09999999999997" y2="240.3033333333333" stroke="#666" stroke-width="0.45"/>
<line x1="408.2" y1="238.35999999999999" x2="410.09999999999997" y2="238.35999999999999" stroke="#666" stroke-width="0.45"/>
<line x1="407.59999999999997" y1="236.41666666666666" x2="410.09999999999997" y2="236.41666666666666" stroke="#666" stroke-width="0.45"/>
<line x1="408.2" y1="234.47333333333333" x2="410.09999999999997" y2="234.47333333333333" stroke="#666" stroke-width="0.45"/>
<line x1="408.2" y1="232.52999999999997" x2="410.09999999999997" y2="232.52999999999997" stroke="#666" stroke-width="0.45"/>
<line x1="408.2" y1="230.58666666666664" x2="410.09999999999997" y2="230.58666666666664" stroke="#666" stroke-width="0.45"/>
<line x1="408.2" y1="228.64333333333332" x2="410.09999999999997" y2="228.64333333333332" stroke="#666" stroke-width="0.45"/>
<line x1="407.59999999999997" y1="226.7" x2="410.09999999999997" y2="226.7" stroke="#666" stroke-width="0.45"/>
<line x1="409.2" y1="285.0" x2="409.2" y2="286.4" stroke="#666" stroke-width="0.5"/>
<line x1="430.09999999999997" y1="285.0" x2="430.09999999999997" y2="286.4" stroke="#666" stroke-width="0.5"/>
<text x="429.49999999999994" y="290.0" font-size="3.2" text-anchor="middle" font-weight="normal" fill="#555">10<tspan font-size="2.2" dy="-1.2">1</tspan></text>
<line x1="451.0" y1="285.0" x2="451.0" y2="286.4" stroke="#666" stroke-width="0.5"/>
<text x="450.4" y="290.0" font-size="3.2" text-anchor="middle" font-weight="normal" fill="#555">10<tspan font-size="2.2" dy="-1.2">2</tspan></text>
<line x1="471.9" y1="285.0" x2="471.9" y2="286.4" stroke="#666" stroke-width="0.5"/>
<text x="471.29999999999995" y="290.0" font-size="3.2" text-anchor="middle" font-weight="normal" fill="#555">10<tspan font-size="2.2" dy="-1.2">3</tspan></text>
<line x1="492.79999999999995" y1="285.0" x2="492.79999999999995" y2="286.4" stroke="#666" stroke-width="0.5"/>
<text x="492.19999999999993" y="290.0" font-size="3.2" text-anchor="middle" font-weight="normal" fill="#555">10<tspan font-size="2.2" dy="-1.2">4</tspan></text>
<text x="453.0" y="293.6" font-size="2.8" text-anchor="middle" font-weight="normal" fill="#666">CFSE</text>
<text x="403.3" y="285.0" font-size="3.0" text-anchor="middle" font-weight="normal" fill="#888" transform="rotate(-90 403.3 285.0)" dominant-baseline="central">0</text>
<text x="403.3" y="275.2833333333333" font-size="3.0" text-anchor="middle" font-weight="normal" fill="#888" transform="rotate(-90 403.3 275.2833333333333)" dominant-baseline="central">50</text>
<text x="403.3" y="265.56666666666666" font-size="3.0" text-anchor="middle" font-weight="normal" fill="#888" transform="rotate(-90 403.3 265.56666666666666)" dominant-baseline="central">100</text>
<text x="403.3" y="255.85" font-size="3.0" text-anchor="middle" font-weight="normal" fill="#888" transform="rotate(-90 403.3 255.85)" dominant-baseline="central">150</text>
<text x="403.3" y="246.13333333333333" font-size="3.0" text-anchor="middle" font-weight="normal" fill="#888" transform="rotate(-90 403.3 246.13333333333333)" dominant-baseline="central">200</text>
<text x="403.3" y="236.41666666666666" font-size="3.0" text-anchor="middle" font-weight="normal" fill="#888" transform="rotate(-90 403.3 236.41666666666666)" dominant-baseline="central">250</text>
<text x="403.3" y="226.7" font-size="3.0" text-anchor="middle" font-weight="normal" fill="#888" transform="rotate(-90 403.3 226.7)" dominant-baseline="central">300</text>
<text x="397.59999999999997" y="257.35" font-size="2.6" text-anchor="middle" font-weight="normal" fill="#777" transform="rotate(-90 397.59999999999997 257.35)" dominant-baseline="central">Number</text>
<path d="M425.0,213.2 L425.7,212.7 L428.3,211.2 L430.5,210.9 L432.1,210.4 L433.1,210.2 L434.7,209.1 L436.3,209.3 L437.9,208.5 L439.5,208.1 L440.5,207.2 L441.6,207.8 L442.6,208.1 L443.7,207.4 L444.8,208.1 L445.8,207.2 L446.9,206 L447.6,205.6 L448.5,207.8 L449.7,209.1 L450.8,208.5 L451.8,205.6 L452.9,204.9 L454,206.2 L455,204.9 L456.4,204 L457.4,204.6 L458.5,202.5 L459.6,199.8 L460.6,201.4 L461.7,201.9 L462.7,198.8 L463.6,189.4 L464.3,180.3 L465.2,173.2 L466.4,168.9 L467.4,170.1 L468.0,180.3 L468.4,189.4 L468.8,195.6 L469.6,206.2 L470.7,210.4 L471.7,212.3 L473.9,213 L473.9,213.2 Z" fill="#000"/>
<line x1="407.9" y1="180.5" x2="459.6" y2="180.5" stroke="#111" stroke-width="1.3"/>
<text x="427.7" y="179.6" font-size="6.4" text-anchor="middle" font-weight="normal" fill="#222" stroke="#222" stroke-width="0.26">43%</text>
<path d="M428.0,285.0 L428.7,284.7 L431.3,284.2 L433.5,283.9 L434.5,282.6 L435.6,281.1 L436.6,282.6 L437.7,283.6 L439.3,282.6 L440.9,281.8 L442.5,281.5 L443.5,280.8 L444.6,281.5 L446.2,280.8 L447.8,279.7 L448.5,279.2 L449.9,281.1 L451.5,280.4 L452.7,281.1 L454.6,277 L455.7,277.6 L456.7,279.7 L458,278.6 L459.4,277 L460.8,272.3 L462,273.9 L463.3,274.4 L464.4,268.6 L465.2,261.5 L465.7,256.4 L466.4,247.2 L467.4,240.1 L468.2,244.2 L468.7,255.4 L469.2,261.5 L469.6,266.5 L470,274.9 L470.7,281.3 L471.6,284.5 L472.6,285 L472.6,285.0 Z" fill="#000"/>
<line x1="409.2" y1="255.2" x2="463.9" y2="255.2" stroke="#111" stroke-width="1.3"/>
<text x="430.4" y="253.3" font-size="6.5" text-anchor="middle" font-weight="normal" fill="#222" stroke="#222" stroke-width="0.26">45.3%</text>
</svg>
</body></html>
